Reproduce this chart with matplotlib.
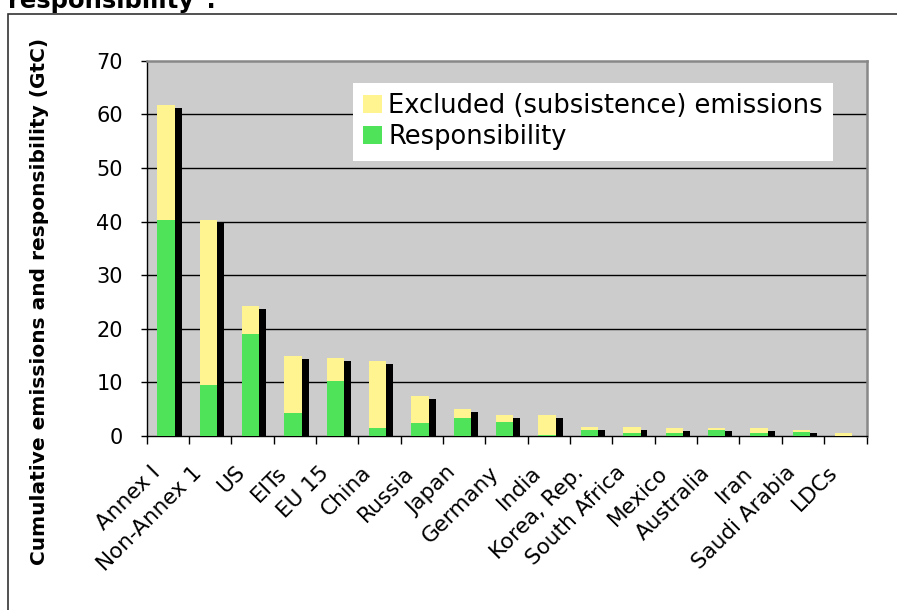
import matplotlib.pyplot as plt
import numpy as np
from matplotlib.patches import Rectangle
from matplotlib.transforms import ScaledTranslation

# cumulative emissions split per region (GtC)
regions = ["Annex I", "Non-Annex 1", "US", "EITs", "EU 15", "China", "Russia",
           "Japan", "Germany", "India", "Korea, Rep.", "South Africa", "Mexico",
           "Australia", "Iran", "Saudi Arabia", "LDCs"]
responsibility = [40.3, 9.5, 19.0, 4.3, 10.3, 1.5, 2.4, 3.4, 2.6, 0.1,
                  1.1, 0.55, 0.55, 1.15, 0.55, 0.75, 0.0]
excluded = [21.5, 30.8, 5.25, 10.6, 4.3, 12.5, 5.1, 1.6, 1.3, 3.8,
            0.6, 1.15, 0.95, 0.35, 0.95, 0.35, 0.55]
yticks = [0, 10, 20, 30, 40, 50, 60, 70]

GREEN = "#4fe35a"
YELLOW = "#fff48f"
PLOT_BG = "#cccccc"

fig = plt.figure(figsize=(8.97, 6.10), dpi=100)
W, H = 897, 610

def px(x0, y0, x1, y1):
    # pixel box (top-left origin) -> figure fraction rect
    return [x0 / W, 1 - y1 / H, (x1 - x0) / W, (y1 - y0) / H]

ax = fig.add_axes(px(146.5, 60.7, 866.5, 436))
ax.set_facecolor(PLOT_BG)

x = np.arange(len(regions))
resp = np.array(responsibility)
excl = np.array(excluded)
total = resp + excl
bw = 0.41
xb = x - 0.04

# drop shadow behind each stacked bar
shadow = ax.transData + ScaledTranslation(5.0 / 72, -2.2 / 72, fig.dpi_scale_trans)
ax.bar(xb, total, width=bw, color="black", transform=shadow, zorder=2)

ax.bar(xb, resp, width=bw, color=GREEN, label="Responsibility", zorder=3)
ax.bar(xb, excl, width=bw, bottom=resp, color=YELLOW,
       label="Excluded (subsistence) emissions", zorder=3)

ax.set_xlim(-0.5, len(regions) - 0.5)
ax.set_ylim(0, 70)
ax.set_yticks(yticks)
ax.tick_params(axis="y", labelsize=15, length=4, width=1, pad=13, color="black")
for g in yticks[1:-1]:
    ax.axhline(g, color="black", lw=1, zorder=1)

# category labels sit left of each slot centre; no tick marks there
ax.set_xticks(x - 0.43)
ax.set_xticklabels(regions, rotation=45, ha="right", va="top",
                   rotation_mode="anchor", fontsize=15.5)
ax.tick_params(axis="x", which="major", length=0, pad=19)
ax.set_xticks(np.arange(-0.5, len(regions)), minor=True)
ax.tick_params(axis="x", which="minor", length=6, width=1, color="black", direction="out")

for s in ["left", "bottom"]:
    ax.spines[s].set_color("black")
    ax.spines[s].set_linewidth(1)
for s in ["top", "right"]:
    ax.spines[s].set_color("#888888")
    ax.spines[s].set_linewidth(1.8)

handles, labels = ax.get_legend_handles_labels()
leg = ax.legend(handles[::-1], labels[::-1], loc="upper left",
                bbox_to_anchor=(0.287, 0.941), borderaxespad=0, fontsize=18.5,
                frameon=True, fancybox=False, framealpha=1,
                handlelength=0.72, handleheight=0.72,
                handletextpad=0.25, labelspacing=0.2, borderpad=0.4)
leg.get_frame().set_facecolor("white")
leg.get_frame().set_edgecolor("white")
leg.get_frame().set_linewidth(0)

fig.text(40 / W, 1 - 301 / H, "Cumulative emissions and responsibility (GtC)",
         rotation=90, ha="center", va="center", fontsize=14.5, fontweight="bold")

# heading running off the top edge
fig.text(8 / W, 1 - 8 / H, 'responsibility".', ha="left", va="baseline",
         fontsize=17.5, fontweight="bold")

# outer frame of the chart object
fig.patches.append(Rectangle((8 / W, -0.05), 1.0, 1 - 14 / H + 0.05,
                             transform=fig.transFigure, fill=False,
                             edgecolor="#333333", lw=1.2))

fig.savefig("out.png", dpi=100)
